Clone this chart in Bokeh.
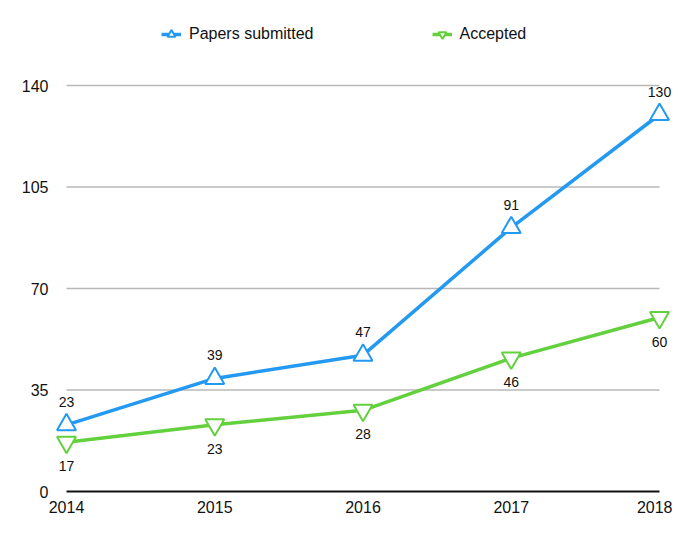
from bokeh.plotting import figure
from bokeh.models import FixedTicker, Legend, LegendItem, Range1d
from bokeh.embed import file_html
from bokeh.resources import INLINE
from bokeh.core.properties import value

years = [2014, 2015, 2016, 2017, 2018]
submitted = [23, 39, 47, 91, 130]
accepted = [17, 23, 28, 46, 60]
y_ticks = [0, 35, 70, 105, 140]
grid_levels = [35, 70, 105, 140]

BLUE = "#2399F1"
GREEN = "#63D13E"
FONT = "Liberation Sans"

# frame: x 66-15 .. 659+13, y 15..491
px_x = 593 / 4.0
px_y = 406 / 140.0
x_start = 2014 - 15 / px_x
x_end = 2018 + 13 / px_x
y_end = 140 + 70 / px_y

p = figure(width=672, height=528, output_backend="svg", toolbar_location=None,
           x_range=Range1d(x_start, x_end), y_range=Range1d(0, y_end),
           min_border_left=51, min_border_right=0, min_border_top=15, min_border_bottom=37)
p.outline_line_color = None
p.xgrid.visible = False
p.ygrid.visible = False
p.background_fill_color = "white"
p.border_fill_color = "white"

# grid segments between first and last year
p.segment(x0=[years[0]] * len(grid_levels), x1=[years[-1]] * len(grid_levels),
          y0=grid_levels, y1=grid_levels, line_color="#b8b8b8", line_width=1.5)

# axes
p.xaxis.ticker = FixedTicker(ticks=years)
p.xaxis.bounds = (years[0], years[-1])
p.xaxis.axis_line_color = "#111111"
p.xaxis.axis_line_width = 2
p.xaxis.major_tick_line_color = None
p.xaxis.minor_tick_line_color = None
p.xaxis.major_tick_out = 0
p.xaxis.major_tick_in = 0
p.xaxis.major_label_standoff = 9
p.xaxis.major_label_text_font = FONT
p.xaxis.major_label_text_font_size = "16px"
p.xaxis.major_label_text_color = "#111111"

p.yaxis.ticker = FixedTicker(ticks=y_ticks)
p.yaxis.axis_line_color = None
p.yaxis.major_tick_line_color = None
p.yaxis.minor_tick_line_color = None
p.yaxis.major_tick_out = 0
p.yaxis.major_tick_in = 0
p.yaxis.major_label_standoff = 3
p.yaxis.major_label_text_font = FONT
p.yaxis.major_label_text_font_size = "16px"
p.yaxis.major_label_text_color = "#111111"

size = 19

l1 = p.line(years, submitted, line_color=BLUE, line_width=3.5)
m1 = p.scatter(years, submitted, marker="triangle", size=size, fill_color="white",
               line_color=BLUE, line_width=2)
l2 = p.line(years, accepted, line_color=GREEN, line_width=3.5)
m2 = p.scatter(years, accepted, marker="inverted_triangle", size=size, fill_color="white",
               line_color=GREEN, line_width=2)

p.text(years, submitted, text=[str(v) for v in submitted], y_offset=-23,
       text_align="center", text_baseline="middle", text_font=value(FONT),
       text_font_size="14px", text_color="#111111")
p.text(years, accepted, text=[str(v) for v in accepted], y_offset=24,
       text_align="center", text_baseline="middle", text_font=value(FONT),
       text_font_size="14px", text_color="#111111")

legend = Legend(items=[LegendItem(label="Papers submitted", renderers=[l1, m1]),
                       LegendItem(label="Accepted", renderers=[l2, m2])],
                orientation="horizontal", location=(110, 447),
                padding=0, margin=0, spacing=118, glyph_width=20, glyph_height=20,
                label_standoff=8, label_text_font=FONT, label_text_font_size="16px",
                label_text_color="#111111", border_line_color=None,
                background_fill_alpha=0)
p.add_layout(legend)

open("out.html", "w").write(file_html(p, INLINE))
